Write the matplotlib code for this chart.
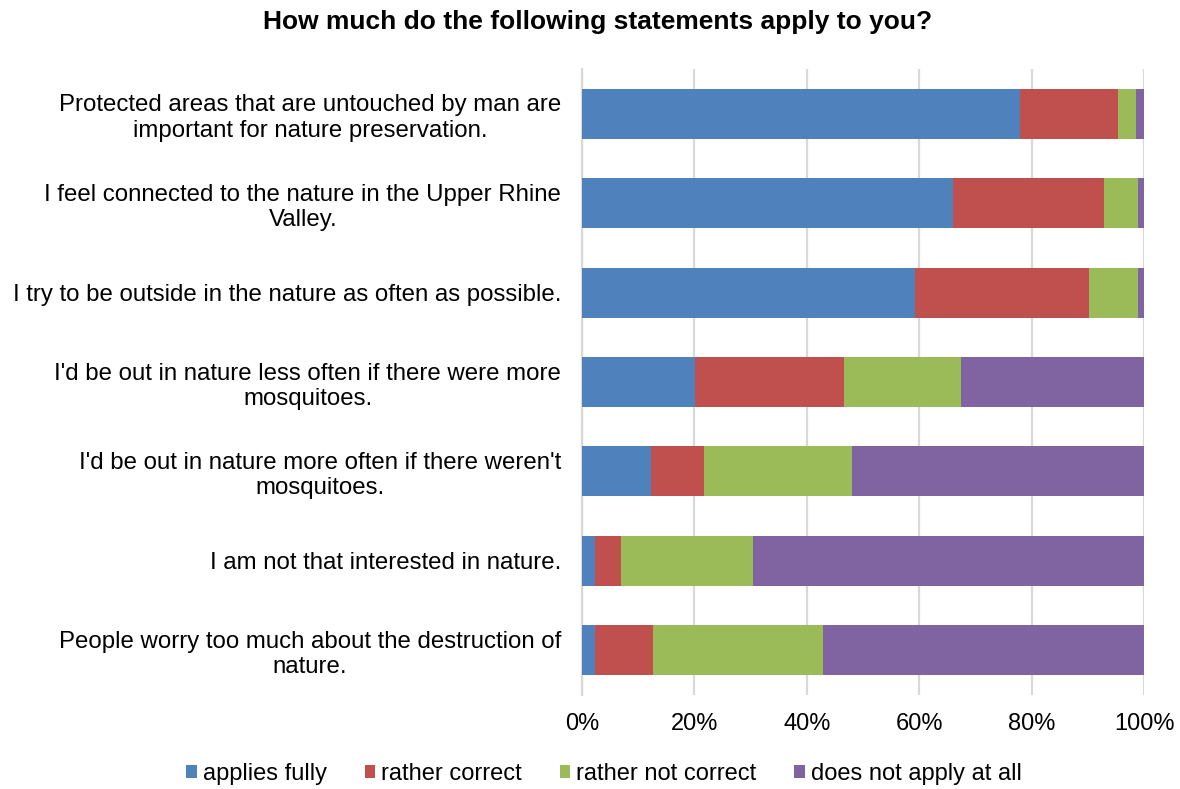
import matplotlib
matplotlib.use("Agg")
import matplotlib.pyplot as plt
import numpy as np

plt.rcParams['font.family'] = ['Liberation Sans', 'DejaVu Sans']

statements = [
    "Protected areas that are untouched by man are\nimportant for nature preservation.",
    "I feel connected to the nature in the Upper Rhine\nValley.",
    "I try to be outside in the nature as often as possible.",
    "I'd be out in nature less often if there were more\nmosquitoes.",
    "I'd be out in nature more often if there weren't\nmosquitoes.",
    "I am not that interested in nature.",
    "People worry too much about the destruction of\nnature.",
]
applies_fully = [78.0, 66.1, 59.3, 20.1, 12.3, 2.4, 2.4]
rather_correct = [17.3, 26.8, 30.9, 26.5, 9.4, 4.5, 10.2]
rather_not_correct = [3.3, 6.1, 8.7, 20.8, 26.4, 23.6, 30.2]
not_at_all = [1.4, 1.0, 1.1, 32.6, 51.9, 69.5, 57.2]

series_names = ["applies fully", "rather correct", "rather not correct", "does not apply at all"]
series_values = [applies_fully, rather_correct, rather_not_correct, not_at_all]
colors = ["#4f81bd", "#c0504d", "#9bbb59", "#8064a2"]
x_ticks = [0, 20, 40, 60, 80, 100]

fig = plt.figure(figsize=(11.8, 7.89), dpi=100)
ax = fig.add_axes([582 / 1180, 1 - 695 / 789, 562 / 1180, 626 / 789])

y = np.arange(len(statements))
left = np.zeros(len(statements))
handles = []
for name, vals, col in zip(series_names, series_values, colors):
    vals = np.array(vals)
    b = ax.barh(y, vals, left=left, height=0.56, color=col, label=name, zorder=3)
    handles.append(b)
    left += vals

ax.set_ylim(len(statements) - 0.5, -0.5)
ax.set_xlim(0, 100)
ax.set_xticks(x_ticks)
ax.set_xticklabels([f"{t}%" for t in x_ticks], fontsize=17)
ax.set_yticks(y)
ax.set_yticklabels(statements, fontsize=17.3, multialignment='center', linespacing=1.2)
ax.tick_params(axis='both', length=0, colors='black')
ax.tick_params(axis='y', pad=15)
ax.tick_params(axis='x', pad=13)
ax.xaxis.grid(True, color='#d9d9d9', linewidth=1.6, zorder=0)
ax.set_axisbelow(True)
for s in ['top', 'right', 'bottom']:
    ax.spines[s].set_visible(False)
ax.spines['left'].set_color('#d9d9d9')
ax.spines['left'].set_linewidth(1.6)

fig.text(598 / 1180, 1 - 22 / 789, "How much do the following statements apply to you?",
         ha='center', va='center', fontsize=19, fontweight='bold')

fig.legend(handles=handles, labels=series_names, loc='center',
           bbox_to_anchor=(604 / 1180, 1 - 774 / 789), ncol=4, frameon=False,
           fontsize=17, handlelength=0.45, handleheight=0.45, handletextpad=0.25,
           columnspacing=1.6)

fig.savefig("out.png", dpi=100)
